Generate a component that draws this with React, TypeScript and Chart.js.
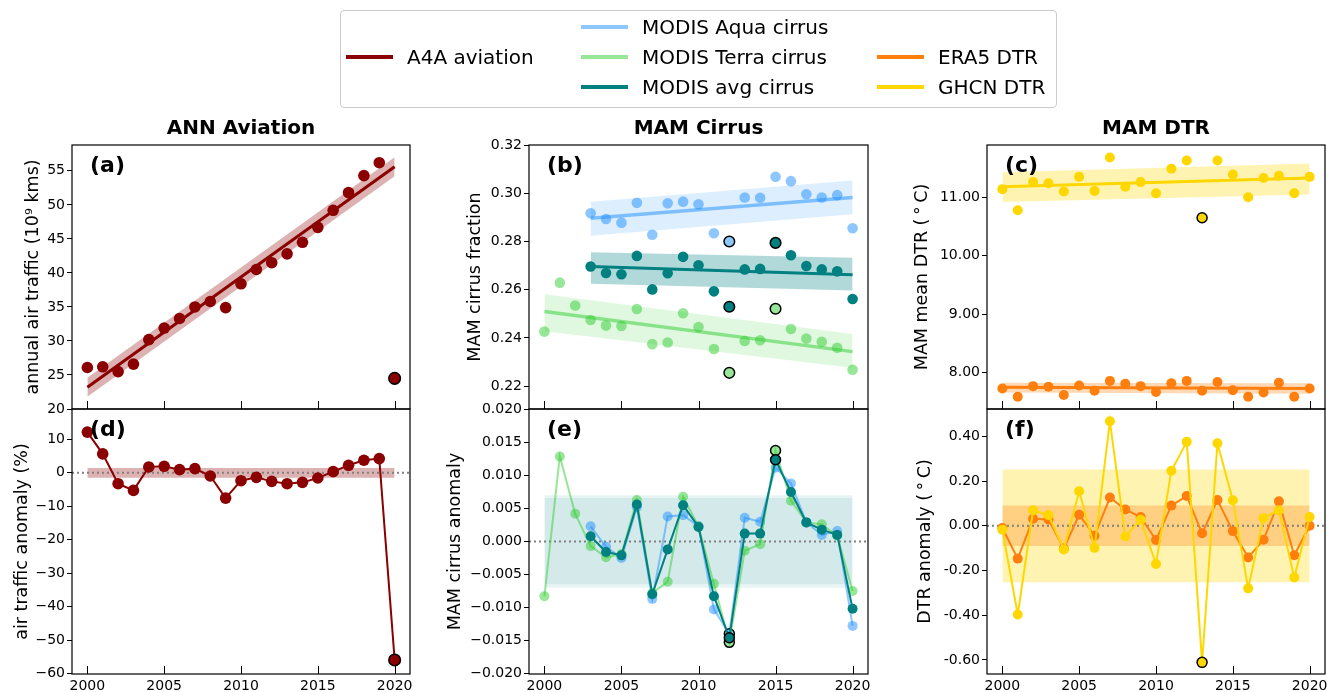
import React, { useEffect, useRef } from "react";
import { Chart, registerables } from "chart.js";

Chart.register(...registerables);

const FONT = "'DejaVu Sans', sans-serif";

// ---------------- data ----------------
const years = [2000, 2001, 2002, 2003, 2004, 2005, 2006, 2007, 2008, 2009, 2010, 2011, 2012, 2013, 2014, 2015, 2016, 2017, 2018, 2019, 2020];
const modisYears = [2003, 2004, 2005, 2006, 2007, 2008, 2009, 2010, 2011, 2012, 2013, 2014, 2015, 2016, 2017, 2018, 2019, 2020];
const xTickYears = [2000, 2005, 2010, 2015, 2020];
const xAxisRange = [1999, 2021];
const trendYears = [2000, 2020];
const modisTrendYears = [2003, 2020];
const zeroLine = [0, 0];

// (a) annual air traffic
const aviationTraffic = [26.1, 26.2, 25.5, 26.6, 30.2, 31.9, 33.3, 35.0, 35.8, 34.9, 38.4, 40.5, 41.5, 42.8, 44.5, 46.7, 49.2, 51.8, 54.3, 56.2, 24.5];
const aviationTrend = [23.2, 55.6];
const aviationTrendUpper = [24.6, 57.0];
const aviationTrendLower = [21.8, 54.2];
const aviationOutliers = [2020];
const aYTicks = [20, 25, 30, 35, 40, 45, 50, 55];

// (d) air traffic anomaly
const aviationAnomaly = [12.1, 5.6, -3.3, -5.3, 1.7, 1.9, 0.9, 1.2, -1.0, -7.6, -2.4, -1.4, -2.6, -3.3, -2.9, -1.6, 0.3, 2.2, 3.7, 4.2, -55.9];
const aviationAnomUpper = [1.4, 1.4];
const aviationAnomLower = [-1.5, -1.5];
const dYTicks = [-60, -50, -40, -30, -20, -10, 0, 10];

// (b) MAM cirrus fraction
const aquaCirrus = [0.2917, 0.2893, 0.2878, 0.2960, 0.2828, 0.2958, 0.2965, 0.2954, 0.2834, 0.2800, 0.2982, 0.2981, 0.3068, 0.3050, 0.2996, 0.2982, 0.2992, 0.2855];
const avgCirrus = [0.2696, 0.2669, 0.2664, 0.2740, 0.2601, 0.2668, 0.2736, 0.2701, 0.2593, 0.2529, 0.2684, 0.2686, 0.2794, 0.2743, 0.2698, 0.2684, 0.2676, 0.2561];
const terraCirrus = [0.2426, 0.2629, 0.2534, 0.2474, 0.2451, 0.2449, 0.2520, 0.2374, 0.2381, 0.2502, 0.2445, 0.2354, 0.2255, 0.2387, 0.2390, 0.2521, 0.2437, 0.2397, 0.2384, 0.2359, 0.2268];
const aquaTrend = [0.2896, 0.2982];
const aquaTrendUpper = [0.2965, 0.3053];
const aquaTrendLower = [0.2824, 0.2913];
const avgTrend = [0.2696, 0.2662];
const avgTrendUpper = [0.2755, 0.2732];
const avgTrendLower = [0.2624, 0.2597];
const terraTrend = [0.2509, 0.2343];
const terraTrendUpper = [0.2581, 0.2416];
const terraTrendLower = [0.2428, 0.2276];
const aquaOutliersB = [2012];
const avgOutliersB = [2012, 2015];
const terraOutliersB = [2012, 2015];
const bYTicks = [0.22, 0.24, 0.26, 0.28, 0.30, 0.32];

// (e) MAM cirrus anomaly
const terraAnom = [-0.0083, 0.0129, 0.0042, -0.0007, -0.0024, -0.0019, 0.0063, -0.0078, -0.0061, 0.0068, 0.0023, -0.0064, -0.0153, -0.0014, -0.0004, 0.0138, 0.0062, 0.0029, 0.0026, 0.0009, -0.0075];
const aquaAnom = [0.0023, -0.0008, -0.0025, 0.0052, -0.0087, 0.0038, 0.0040, 0.0023, -0.0103, -0.0140, 0.0036, 0.0030, 0.0112, 0.0088, 0.0029, 0.0010, 0.0016, -0.0128];
const avgAnom = [0.0008, -0.0016, -0.0021, 0.0056, -0.0080, -0.0012, 0.0055, 0.0022, -0.0083, -0.0146, 0.0012, 0.0012, 0.0124, 0.0075, 0.0029, 0.0018, 0.0010, -0.0102];
const cirrusStdOuterUpper = [0.0070, 0.0070];
const cirrusStdOuterLower = [-0.0070, -0.0070];
const cirrusStdInnerUpper = [0.0066, 0.0066];
const cirrusStdInnerLower = [-0.0065, -0.0065];
const aquaOutliersE = [2012];
const avgOutliersE = [2012, 2015];
const terraOutliersE = [2012, 2015];
const eYTicks = [-0.02, -0.015, -0.01, -0.005, 0, 0.005, 0.01, 0.015, 0.02];

// (c) MAM mean DTR
const ghcnDTR = [11.14, 10.78, 11.26, 11.24, 11.10, 11.35, 11.11, 11.68, 11.18, 11.26, 11.07, 11.49, 11.63, 10.65, 11.63, 11.39, 11.00, 11.33, 11.37, 11.07, 11.35];
const era5DTR = [7.73, 7.59, 7.77, 7.76, 7.62, 7.78, 7.69, 7.86, 7.81, 7.77, 7.67, 7.82, 7.86, 7.69, 7.84, 7.70, 7.59, 7.66, 7.83, 7.59, 7.73];
const ghcnTrend = [11.18, 11.33];
const ghcnTrendUpper = [11.43, 11.58];
const ghcnTrendLower = [10.92, 11.05];
const era5Trend = [7.75, 7.73];
const era5TrendUpper = [7.83, 7.82];
const era5TrendLower = [7.66, 7.64];
const ghcnOutliers = [2013];
const cYTicks = [8, 9, 10, 11];

// (f) DTR anomaly
const ghcnAnom = [-0.018, -0.397, 0.069, 0.048, -0.106, 0.154, -0.099, 0.467, -0.048, 0.027, -0.171, 0.246, 0.375, -0.611, 0.369, 0.114, -0.280, 0.034, 0.069, -0.231, 0.039];
const era5Anom = [-0.010, -0.147, 0.031, 0.028, -0.102, 0.049, -0.045, 0.126, 0.073, 0.039, -0.064, 0.090, 0.133, -0.034, 0.115, -0.024, -0.142, -0.063, 0.109, -0.132, 0.000];
const ghcnStdUpper = [0.252, 0.252];
const ghcnStdLower = [-0.253, -0.253];
const era5StdUpper = [0.090, 0.090];
const era5StdLower = [-0.091, -0.091];
const fYTicks = [-0.6, -0.4, -0.2, 0, 0.2, 0.4];

// ---------------- styles ----------------
const C_AVIATION = "#8b0000";
const C_AVIATION_BAND = "rgba(139,0,0,0.3)";
const C_AQUA = "rgba(30,144,255,0.5)";
const C_AQUA_BAND = "rgba(30,144,255,0.15)";
const C_TERRA = "rgba(50,205,50,0.5)";
const C_TERRA_BAND = "rgba(50,205,50,0.15)";
const C_AVG = "#008080";
const C_AVG_BAND = "rgba(0,128,128,0.3)";
const C_AVG_BAND_LIGHT = "rgba(0,128,128,0.09)";
const C_ERA5 = "#ff7f0e";
const C_ERA5_BAND = "rgba(255,127,14,0.3)";
const C_GHCN = "#ffd700";
const C_GHCN_BAND = "rgba(255,215,0,0.3)";
const C_ZERO = "#808080";

// ---------------- helpers ----------------
const toPts = (xs: number[], ys: number[]) => xs.map((x, i) => ({ x, y: ys[i] }));

function series(xs: number[], ys: number[], color: string, outlined: number[], order: number, lineWidth: number, radius = 5) {
  const hl = xs.map((x) => outlined.includes(x));
  return {
    data: toPts(xs, ys),
    showLine: lineWidth > 0,
    borderColor: color,
    borderWidth: lineWidth,
    backgroundColor: color,
    pointRadius: radius,
    pointHoverRadius: radius,
    pointBackgroundColor: color,
    pointBorderColor: hl.map((h) => (h ? "#000" : "rgba(0,0,0,0)")),
    pointBorderWidth: hl.map((h) => (h ? 1.5 : 0)),
    fill: false,
    order,
  };
}

function line(xs: number[], ys: number[], color: string, width: number, order: number, dash: number[] = []) {
  return {
    data: toPts(xs, ys),
    showLine: true,
    borderColor: color,
    borderWidth: width,
    borderDash: dash,
    borderCapStyle: "butt",
    pointRadius: 0,
    pointHoverRadius: 0,
    fill: false,
    order,
  };
}

function band(xs: number[], upper: number[], lower: number[], color: string, order: number) {
  return [
    { data: toPts(xs, upper), showLine: true, borderColor: "rgba(0,0,0,0)", borderWidth: 1, pointRadius: 0, pointHoverRadius: 0, fill: false, order },
    { data: toPts(xs, lower), showLine: true, borderColor: "rgba(0,0,0,0)", borderWidth: 1, pointRadius: 0, pointHoverRadius: 0, fill: "-1", backgroundColor: color, order },
  ];
}

const fmtInt = (v: number) => String(Math.round(v)).replace("-", "\u2212");
const fmt2 = (v: number) => (Math.abs(v) < 1e-9 ? 0 : v).toFixed(2);
const fmt3minus = (v: number) => (Math.abs(v) < 1e-9 ? 0 : v).toFixed(3).replace("-", "\u2212");
const fmt2hyphen = (v: number) => (Math.abs(v) < 1e-9 ? 0 : v).toFixed(2);

type PanelSpec = {
  key: string;
  box: { left: number; top: number; right: number; bottom: number };
  yWidth: number;
  titlePad: number;
  yTitle: string;
  yMin: number;
  yMax: number;
  yTicks: number[];
  yFmt: (v: number) => string;
  showXLabels: boolean;
  title?: string;
  label: string;
  datasets: any[];
};

const W = 1338;
const H = 692;

const panels: PanelSpec[] = [
  {
    key: "a",
    box: { left: 72, top: 145, right: 410, bottom: 409 },
    yWidth: 72,
    titlePad: 22.5,
    yTitle: "annual air traffic (10\u2079 kms)",
    yMin: 20,
    yMax: 58.8,
    yTicks: aYTicks,
    yFmt: fmtInt,
    showXLabels: false,
    title: "ANN Aviation",
    label: "(a)",
    datasets: [
      ...band(trendYears, aviationTrendUpper, aviationTrendLower, C_AVIATION_BAND, 30),
      line(trendYears, aviationTrend, C_AVIATION, 3, 5),
      series(years, aviationTraffic, C_AVIATION, aviationOutliers, 1, 0, 5.8),
    ],
  },
  {
    key: "d",
    box: { left: 72, top: 409, right: 410, bottom: 674 },
    yWidth: 72,
    titlePad: 12,
    yTitle: "air traffic anomaly (%)",
    yMin: -60.1,
    yMax: 19.0,
    yTicks: dYTicks,
    yFmt: fmtInt,
    showXLabels: true,
    label: "(d)",
    datasets: [
      ...band(trendYears, aviationAnomUpper, aviationAnomLower, C_AVIATION_BAND, 30),
      line(xAxisRange, zeroLine, C_ZERO, 2, 20, [2, 3]),
      series(years, aviationAnomaly, C_AVIATION, aviationOutliers, 1, 2, 5.8),
    ],
  },
  {
    key: "b",
    box: { left: 529, top: 145, right: 868, bottom: 409 },
    yWidth: 100,
    titlePad: 35.5,
    yTitle: "MAM cirrus fraction",
    yMin: 0.2105,
    yMax: 0.32,
    yTicks: bYTicks,
    yFmt: fmt2,
    showXLabels: false,
    title: "MAM Cirrus",
    label: "(b)",
    datasets: [
      ...band(modisTrendYears, aquaTrendUpper, aquaTrendLower, C_AQUA_BAND, 32),
      ...band(modisTrendYears, avgTrendUpper, avgTrendLower, C_AVG_BAND, 31),
      ...band(trendYears, terraTrendUpper, terraTrendLower, C_TERRA_BAND, 33),
      line(modisTrendYears, aquaTrend, C_AQUA, 3.5, 12),
      line(modisTrendYears, avgTrend, C_AVG, 3, 11),
      line(trendYears, terraTrend, C_TERRA, 3.5, 13),
      series(modisYears, aquaCirrus, C_AQUA, aquaOutliersB, 3, 0, 5.3),
      series(modisYears, avgCirrus, C_AVG, avgOutliersB, 1, 0, 5.3),
      series(years, terraCirrus, C_TERRA, terraOutliersB, 2, 0, 5.3),
    ],
  },
  {
    key: "e",
    box: { left: 529, top: 409, right: 868, bottom: 674 },
    yWidth: 100,
    titlePad: 15.5,
    yTitle: "MAM cirrus anomaly",
    yMin: -0.0201,
    yMax: 0.0201,
    yTicks: eYTicks,
    yFmt: fmt3minus,
    showXLabels: true,
    label: "(e)",
    datasets: [
      ...band(trendYears, cirrusStdOuterUpper, cirrusStdOuterLower, C_AVG_BAND_LIGHT, 31),
      ...band(trendYears, cirrusStdInnerUpper, cirrusStdInnerLower, C_AVG_BAND_LIGHT, 30),
      line(xAxisRange, zeroLine, C_ZERO, 2, 20, [2, 3]),
      series(modisYears, aquaAnom, C_AQUA, aquaOutliersE, 3, 2),
      series(years, terraAnom, C_TERRA, terraOutliersE, 2, 2),
      series(modisYears, avgAnom, C_AVG, avgOutliersE, 1, 2),
    ],
  },
  {
    key: "c",
    box: { left: 987, top: 145, right: 1325, bottom: 409 },
    yWidth: 100,
    titlePad: 24.5,
    yTitle: "MAM mean DTR (\u2009\u00b0\u2009C)",
    yMin: 7.379,
    yMax: 11.895,
    yTicks: cYTicks,
    yFmt: fmt2,
    showXLabels: false,
    title: "MAM DTR",
    label: "(c)",
    datasets: [
      ...band(trendYears, ghcnTrendUpper, ghcnTrendLower, C_GHCN_BAND, 31),
      ...band(trendYears, era5TrendUpper, era5TrendLower, C_ERA5_BAND, 30),
      line(trendYears, ghcnTrend, C_GHCN, 3, 12),
      line(trendYears, era5Trend, C_ERA5, 3, 11),
      series(years, ghcnDTR, C_GHCN, ghcnOutliers, 1, 0),
      series(years, era5DTR, C_ERA5, [], 2, 0),
    ],
  },
  {
    key: "f",
    box: { left: 987, top: 409, right: 1325, bottom: 674 },
    yWidth: 100,
    titlePad: 27.5,
    yTitle: "DTR anomaly (\u2009\u00b0\u2009C)",
    yMin: -0.663,
    yMax: 0.522,
    yTicks: fYTicks,
    yFmt: fmt2hyphen,
    showXLabels: true,
    label: "(f)",
    datasets: [
      ...band(trendYears, ghcnStdUpper, ghcnStdLower, C_GHCN_BAND, 31),
      ...band(trendYears, era5StdUpper, era5StdLower, C_ERA5_BAND, 30),
      line(xAxisRange, zeroLine, C_ZERO, 2, 20, [2, 3]),
      series(years, era5Anom, C_ERA5, [], 2, 2),
      series(years, ghcnAnom, C_GHCN, ghcnOutliers, 1, 2),
    ],
  },
];

function decorPlugin(spec: PanelSpec) {
  return {
    id: "decor_" + spec.key,
    afterDatasetsDraw(chart: any) {
      const { ctx, chartArea: a, scales } = chart;
      ctx.save();
      ctx.strokeStyle = "#000";
      ctx.lineWidth = 1;
      xTickYears.forEach((v) => {
        const px = Math.round(scales.x.getPixelForValue(v)) + 0.5;
        ctx.beginPath();
        ctx.moveTo(px, a.bottom);
        ctx.lineTo(px, a.bottom - 8);
        ctx.stroke();
      });
      ctx.lineWidth = 1.2;
      ctx.strokeRect(a.left, a.top, a.right - a.left, a.bottom - a.top);
      ctx.fillStyle = "#000";
      ctx.font = `bold 22px ${FONT}`;
      ctx.textAlign = "left";
      ctx.textBaseline = "middle";
      ctx.fillText(spec.label, a.left + 18, a.top + 21);
      if (spec.title) {
        ctx.font = `bold 20px ${FONT}`;
        ctx.textAlign = "center";
        ctx.fillText(spec.title, (a.left + a.right) / 2, a.top - 16);
      }
      ctx.restore();
    },
  };
}

function buildConfig(spec: PanelSpec): any {
  const xH = spec.showXLabels ? 18 : 0;
  return {
    type: "scatter",
    data: { datasets: spec.datasets },
    options: {
      animation: false,
      responsive: false,
      maintainAspectRatio: false,
      devicePixelRatio: 1,
      events: [],
      layout: {
        padding: {
          left: spec.box.left - spec.yWidth,
          right: W - spec.box.right,
          top: spec.box.top,
          bottom: H - spec.box.bottom - xH,
        },
      },
      plugins: { legend: { display: false }, tooltip: { enabled: false }, title: { display: false } },
      scales: {
        x: {
          type: "linear",
          min: xAxisRange[0],
          max: xAxisRange[1],
          afterBuildTicks: (s: any) => {
            s.ticks = xTickYears.map((v) => ({ value: v }));
          },
          afterFit: (s: any) => {
            s.height = xH;
          },
          grid: { display: false, drawTicks: false },
          border: { display: false },
          ticks: {
            display: spec.showXLabels,
            padding: 4,
            color: "#000",
            autoSkip: false,
            maxRotation: 0,
            font: { family: FONT, size: 14 },
            callback: (v: number) => String(v),
          },
        },
        y: {
          type: "linear",
          min: spec.yMin,
          max: spec.yMax,
          afterBuildTicks: (s: any) => {
            s.ticks = spec.yTicks.map((v) => ({ value: v }));
          },
          afterFit: (s: any) => {
            s.width = spec.yWidth;
          },
          grid: { drawOnChartArea: false, drawTicks: true, tickLength: 5, color: "#000", lineWidth: 1 },
          border: { display: false },
          ticks: {
            padding: 2,
            color: "#000",
            autoSkip: false,
            font: { family: FONT, size: 14 },
            callback: (v: number) => spec.yFmt(v),
          },
          title: {
            display: true,
            text: spec.yTitle,
            color: "#000",
            font: { family: FONT, size: 17.5, lineHeight: 1.2 },
            padding: { top: spec.titlePad, bottom: 0 },
          },
        },
      },
    },
    plugins: [decorPlugin(spec)],
  };
}

function Panel({ spec }: { spec: PanelSpec }) {
  const ref = useRef<HTMLCanvasElement>(null);
  useEffect(() => {
    const chart = new Chart(ref.current as HTMLCanvasElement, buildConfig(spec));
    return () => chart.destroy();
  }, [spec]);
  return (
    <canvas
      ref={ref}
      width={W}
      height={H}
      style={{ position: "absolute", left: 0, top: 0, width: W, height: H }}
    />
  );
}

const legendLabels = ["A4A aviation", "MODIS Aqua cirrus", "MODIS Terra cirrus", "MODIS avg cirrus", "ERA5 DTR", "GHCN DTR"];
const legendColors = [C_AVIATION, "#8ec7ff", "#98e698", C_AVG, C_ERA5, C_GHCN];
const legendPos = [
  { x: 346, y: 57 },
  { x: 581, y: 27 },
  { x: 581, y: 57 },
  { x: 581, y: 87 },
  { x: 877, y: 57 },
  { x: 877, y: 87 },
];

export default function App() {
  return (
    <div style={{ position: "absolute", left: 0, top: 0, width: W, height: H, background: "#fff", overflow: "hidden" }}>
      {panels.map((p) => (
        <Panel key={p.key} spec={p} />
      ))}
      <div
        style={{
          position: "absolute",
          left: 340,
          top: 10,
          width: 717,
          height: 98,
          border: "1px solid #cccccc",
          borderRadius: 4,
          boxSizing: "border-box",
        }}
      />
      {legendLabels.map((lab, i) => (
        <div
          key={lab}
          style={{
            position: "absolute",
            left: legendPos[i].x,
            top: legendPos[i].y - 14,
            height: 28,
            display: "flex",
            alignItems: "center",
            fontFamily: FONT,
            fontSize: 20,
            color: "#000",
            whiteSpace: "nowrap",
          }}
        >
          <span style={{ display: "inline-block", width: 47, height: 4, background: legendColors[i], marginRight: 14 }} />
          {lab}
        </div>
      ))}
    </div>
  );
}
